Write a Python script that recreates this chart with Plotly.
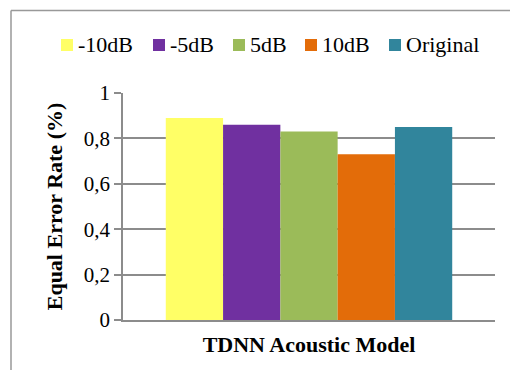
import plotly.graph_objects as go

categories = ["TDNN Acoustic Model"]
series_names = ["-10dB", "-5dB", "5dB", "10dB", "Original"]
series_values = [0.89, 0.86, 0.83, 0.73, 0.85]
series_colors = ["#FFFF66", "#7030A0", "#9BBB59", "#E36C09", "#31859C"]
y_ticks = [0, 0.2, 0.4, 0.6, 0.8, 1]

FONT = "Liberation Serif"
W, H = 510, 370
L, T = 123, 93
R = W - 495
B = H - 320


def px_x(p):
    return (p - L) / (W - L - R)


def px_y(p):
    return (H - B - p) / (H - T - B)


fig = go.Figure()
for name, val, col in zip(series_names, series_values, series_colors):
    fig.add_trace(go.Bar(x=categories, y=[val], name=name, showlegend=False,
                         marker=dict(color=col, line=dict(width=0))))

fig.update_layout(
    width=W, height=H,
    margin=dict(l=L, r=R, t=T, b=B, autoexpand=False),
    paper_bgcolor="white", plot_bgcolor="white",
    barmode="group", bargap=0.23, bargroupgap=0,
    separators=", ",
    font=dict(family=FONT, size=21, color="black"),
    showlegend=False,
)
fig.update_xaxes(
    showline=True, linecolor="#8c8c8c", linewidth=1.5,
    showgrid=False, ticks="", ticklabelstandoff=4,
    tickfont=dict(family=FONT, size=22, weight="bold", color="black"),
)
fig.update_yaxes(
    range=[0, 1], tickvals=y_ticks, showgrid=True, gridcolor="#8c8c8c", gridwidth=1.5,
    showline=True, linecolor="#8c8c8c", linewidth=1.5,
    ticks="outside", ticklen=7, tickcolor="#8c8c8c", tickwidth=1.5,
    tickfont=dict(family=FONT, size=21, color="black"), zeroline=False,
    title=dict(text="Equal Error Rate (%)", font=dict(family=FONT, size=22, weight="bold", color="black")),
)

# chart border (left and top edges only are visible)
bx0, by0 = px_x(11), px_y(10.5)
fig.add_shape(type="line", xref="paper", yref="paper", x0=bx0, x1=bx0, y0=by0, y1=px_y(400),
              line=dict(color="#999999", width=1.5), layer="above")
fig.add_shape(type="line", xref="paper", yref="paper", x0=bx0, x1=px_x(530), y0=by0, y1=by0,
              line=dict(color="#999999", width=1.5), layer="above")

# custom legend (symbol left edges in px)
legend_sym_x = [61, 153, 233, 305, 389]
legend_y = 45
for name, col, sx in zip(series_names, series_colors, legend_sym_x):
    fig.add_shape(type="rect", xref="paper", yref="paper",
                  x0=px_x(sx), x1=px_x(sx + 12), y0=px_y(legend_y + 6), y1=px_y(legend_y - 6),
                  line=dict(width=0), fillcolor=col)
    fig.add_annotation(xref="paper", yref="paper", x=px_x(sx + 15), y=px_y(legend_y),
                       xanchor="left", yanchor="middle", showarrow=False, text=name,
                       font=dict(family=FONT, size=22, color="black"))

fig.write_html(
    "out.html",
    config={"displayModeBar": False},
    post_script="document.body.style.margin='0';document.body.style.overflow='hidden';",
)
